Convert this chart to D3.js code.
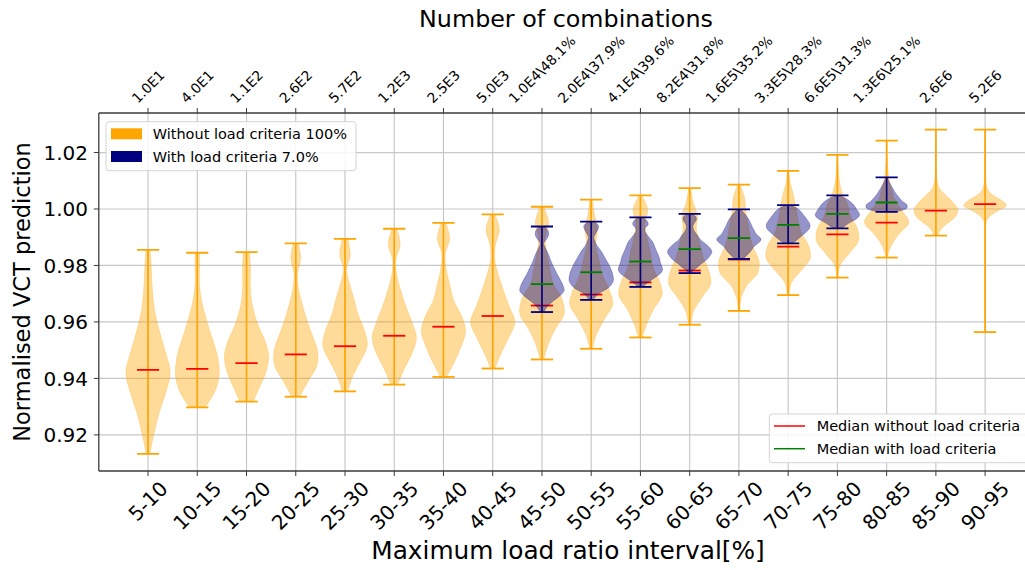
<!DOCTYPE html>
<html><head><meta charset="utf-8">
<script src="https://cdn.jsdelivr.net/npm/d3@7"></script>
<style>
body{margin:0;background:#fff}
svg{display:block}
text{font-family:"DejaVu Sans",sans-serif;fill:#000}
</style>
</head><body>
<svg id="c" width="1025" height="570"></svg>
<script>
// ---------------- data ----------------
const categories = ["5-10","10-15","15-20","20-25","25-30","30-35","35-40","40-45","45-50","50-55","55-60","60-65","65-70","70-75","75-80","80-85","85-90","90-95"];
const topLabels = ["1.0E1","4.0E1","1.1E2","2.6E2","5.7E2","1.2E3","2.5E3","5.0E3","1.0E4\\48.1%","2.0E4\\37.9%","4.1E4\\39.6%","8.2E4\\31.8%","1.6E5\\35.2%","3.3E5\\28.3%","6.6E5\\31.3%","1.3E6\\25.1%","2.6E6","5.2E6"];
const yTicks = [0.92, 0.94, 0.96, 0.98, 1.00, 1.02];
const yTickLabels = ["0.92","0.94","0.96","0.98","1.00","1.02"];

// without load criteria (all intervals)
const withoutMin    = [0.9133,0.9297,0.9318,0.9335,0.9354,0.9378,0.9405,0.9435,0.9467,0.9505,0.9545,0.9590,0.9639,0.9695,0.9757,0.9828,0.9906,0.9564];
const withoutMax    = [0.9855,0.9845,0.9847,0.9878,0.9894,0.9930,0.9951,0.9981,1.0008,1.0033,1.0048,1.0074,1.0086,1.0135,1.0192,1.0242,1.0281,1.0281];
const withoutMedian = [0.9430,0.9434,0.9454,0.9485,0.9514,0.9551,0.9583,0.9621,0.9658,0.9697,0.9740,0.9782,0.9821,0.9867,0.9910,0.9952,0.9994,1.0017];
// relative density (1 = widest), sampled evenly from min (first) to max (last)
const withoutDensity = [
  [0.08,0.27,0.5,0.8,1.0,0.78,0.52,0.3,0.2,0.15,0.1],
  [0.35,0.78,0.98,0.95,0.78,0.55,0.35,0.18,0.1,0.1,0.1],
  [0.3,0.6,0.88,1.0,0.85,0.55,0.33,0.2,0.17,0.18,0.14],
  [0.18,0.55,0.95,0.98,0.75,0.5,0.3,0.13,0.08,0.22,0.12],
  [0.12,0.35,0.7,1.0,0.88,0.6,0.42,0.22,0.07,0.24,0.12],
  [0.15,0.45,0.8,1.0,0.8,0.53,0.3,0.12,0.07,0.27,0.1],
  [0.13,0.5,0.8,1.0,0.8,0.45,0.28,0.12,0.08,0.28,0.1],
  [0.1,0.38,0.72,1.0,0.75,0.5,0.27,0.1,0.12,0.3,0.1],
  [0.08,0.28,0.6,1.0,0.9,0.5,0.35,0.22,0.15,0.3,0.08],
  [0.06,0.25,0.6,0.97,0.8,0.5,0.35,0.2,0.28,0.15,0.06],
  [0.08,0.3,0.6,0.98,0.85,0.55,0.45,0.3,0.2,0.33,0.06],
  [0.05,0.18,0.55,0.95,0.85,0.6,0.45,0.3,0.35,0.15,0.05],
  [0.04,0.1,0.35,0.85,0.9,0.65,0.5,0.4,0.3,0.25,0.05],
  [0.04,0.15,0.6,1.0,0.92,0.6,0.45,0.35,0.25,0.1,0.03],
  [0.03,0.12,0.55,0.95,0.9,0.6,0.45,0.2,0.08,0.04,0.02],
  [0.03,0.2,0.55,1.0,0.7,0.35,0.2,0.08,0.04,0.02,0.02],
  [0.08,0.2,0.42,0.75,0.95,0.98,0.82,0.6,0.35,0.15,0.07,0.04,0.03,0.025,0.02,0.02,0.015,0.015,0.01,0.01,0.01],
  [0.01,0.01,0.01,0.01,0.01,0.01,0.01,0.01,0.01,0.01,0.01,0.01,0.01,0.01,0.01,0.01,0.01,0.01,0.012,0.012,0.015,0.025,0.06,0.24,0.58,0.97,0.75,0.38,0.14,0.06,0.03,0.02,0.015,0.015,0.01,0.01,0.01,0.01,0.01,0.01,0.01]
];

// with load criteria (intervals 45-50 .. 80-85)
const withCategories = ["45-50","50-55","55-60","60-65","65-70","70-75","75-80","80-85"];
const withMin    = [0.9635,0.9678,0.9724,0.9773,0.9823,0.9878,0.9931,0.9990];
const withMax    = [0.9938,0.9955,0.9970,0.9983,0.9999,1.0014,1.0048,1.0112];
const withMedian = [0.9734,0.9776,0.9814,0.9858,0.9897,0.9944,0.9983,1.0023];
const withDensity = [
  [0.08,0.2,0.38,0.62,0.85,1.0,0.97,0.88,0.78,0.67,0.58,0.48,0.4,0.33,0.25,0.15,0.08,0.2,0.3,0.28,0.1],
  [0.1,0.22,0.45,0.75,0.92,1.0,0.99,0.95,0.88,0.8,0.7,0.6,0.5,0.38,0.25,0.17,0.12,0.2,0.3,0.33,0.12],
  [0.1,0.28,0.5,0.72,0.92,1.0,0.96,0.9,0.87,0.82,0.75,0.68,0.62,0.55,0.42,0.3,0.2,0.22,0.35,0.3,0.08],
  [0.08,0.18,0.35,0.5,0.68,0.83,0.93,1.0,0.96,0.85,0.7,0.52,0.42,0.32,0.22,0.16,0.15,0.22,0.3,0.28,0.06],
  [0.2,0.3,0.42,0.52,0.6,0.68,0.82,0.95,1.0,0.9,0.78,0.72,0.66,0.6,0.55,0.5,0.44,0.36,0.28,0.18,0.05],
  [0.2,0.42,0.62,0.82,0.97,0.98,0.88,0.75,0.62,0.45,0.06],
  [0.2,0.38,0.62,0.88,1.0,0.95,0.85,0.75,0.6,0.4,0.05],
  [0.35,0.9,0.92,0.72,0.58,0.45,0.35,0.26,0.17,0.09,0.03]
];

// ---------------- drawing ----------------
const W = 1025, H = 570;
const svg = d3.select("#c");
const pL = 98.8, pT = 113, pB = 471;
const x = d3.scaleLinear().domain([0, 19]).range([pL, pL + 19 * 49.24]);
const y = d3.scaleLinear().domain([0.9072, 1.034]).range([pB, pT]);
const pos = categories.map((c, i) => i + 1);
const halfW = x(0.45) - x(0);
const capW = x(0.225) - x(0);

svg.append("rect").attr("width", W).attr("height", H).attr("fill", "#fff");

svg.append("clipPath").attr("id", "plotclip").append("rect")
  .attr("x", pL).attr("y", pT).attr("width", x(19) - pL).attr("height", pB - pT);
const plot = svg.append("g").attr("clip-path", "url(#plotclip)");

// grid
plot.selectAll(".hg").data(yTicks).join("line")
  .attr("x1", pL).attr("x2", x(19)).attr("y1", d => y(d)).attr("y2", d => y(d))
  .attr("stroke", "#c8c8c8").attr("stroke-width", 1.2);
plot.selectAll(".vg").data(pos).join("line")
  .attr("x1", d => x(d)).attr("x2", d => x(d)).attr("y1", pT).attr("y2", pB)
  .attr("stroke", "#c4c4c4").attr("stroke-width", 1.1);

function violinBody(g, p, mn, mx, dens, color, op) {
  const n = dens.length;
  const pts = dens.map((w, i) => ({ v: mn + (mx - mn) * i / (n - 1), w: w }));
  const area = d3.area()
    .y(d => y(d.v))
    .x0(d => x(p) - d.w * halfW)
    .x1(d => x(p) + d.w * halfW)
    .curve(d3.curveCatmullRom.alpha(0.5));
  g.append("path").attr("d", area(pts))
    .attr("fill", color).attr("fill-opacity", op)
    .attr("stroke", color).attr("stroke-opacity", op * 0.6).attr("stroke-width", 1);
}
function violinLines(g, p, mn, mx, color) {
  g.append("line").attr("x1", x(p)).attr("x2", x(p)).attr("y1", y(mn)).attr("y2", y(mx))
    .attr("stroke", color).attr("stroke-width", 1.6);
  [mn, mx].forEach(v => g.append("line")
    .attr("x1", x(p) - capW).attr("x2", x(p) + capW).attr("y1", y(v)).attr("y2", y(v))
    .attr("stroke", color).attr("stroke-width", 1.8));
}
function medianLine(g, p, v, color) {
  g.append("line").attr("x1", x(p) - capW).attr("x2", x(p) + capW).attr("y1", y(v)).attr("y2", y(v))
    .attr("stroke", color).attr("stroke-width", 1.8);
}

// without load criteria: bodies, extrema, medians
const gOrange = plot.append("g");
categories.forEach((c, i) => violinBody(gOrange, pos[i], withoutMin[i], withoutMax[i], withoutDensity[i], "#FFA500", 0.4));
categories.forEach((c, i) => violinLines(gOrange, pos[i], withoutMin[i], withoutMax[i], "#FFA500"));
categories.forEach((c, i) => medianLine(gOrange, pos[i], withoutMedian[i], "#FF0000"));

// with load criteria drawn on top
const gBlue = plot.append("g");
withCategories.forEach((c, j) => {
  const p = categories.indexOf(c) + 1;
  violinBody(gBlue, p, withMin[j], withMax[j], withDensity[j], "#000080", 0.42);
});
withCategories.forEach((c, j) => {
  const p = categories.indexOf(c) + 1;
  violinLines(gBlue, p, withMin[j], withMax[j], "#000080");
  medianLine(gBlue, p, withMedian[j], "#008000");
});

// spines
const axC = "#3a3a3a";
svg.append("line").attr("x1", pL).attr("x2", pL).attr("y1", pT).attr("y2", pB).attr("stroke", axC).attr("stroke-width", 1.3);
svg.append("line").attr("x1", pL).attr("x2", W).attr("y1", pB).attr("y2", pB).attr("stroke", axC).attr("stroke-width", 1.3);
svg.append("line").attr("x1", pL).attr("x2", W).attr("y1", pT).attr("y2", pT).attr("stroke", axC).attr("stroke-width", 1.3);

// y ticks
svg.selectAll(".yt").data(yTicks).join("line")
  .attr("x1", pL - 5).attr("x2", pL).attr("y1", d => y(d)).attr("y2", d => y(d))
  .attr("stroke", axC).attr("stroke-width", 1);
svg.selectAll(".ytl").data(yTicks).join("text")
  .attr("x", 88).attr("y", d => y(d)).attr("dy", "0.36em")
  .attr("text-anchor", "end").attr("font-size", 20)
  .text((d, i) => yTickLabels[i]);

// x ticks bottom / top
svg.selectAll(".xtb").data(pos).join("line")
  .attr("x1", d => x(d)).attr("x2", d => x(d)).attr("y1", pB).attr("y2", pB + 5)
  .attr("stroke", axC).attr("stroke-width", 1);
svg.selectAll(".xtt").data(pos).join("line")
  .attr("x1", d => x(d)).attr("x2", d => x(d)).attr("y1", pT).attr("y2", pT - 5)
  .attr("stroke", axC).attr("stroke-width", 1);

function rotLabel(txt, cx, edge, fs, below) {
  const t = svg.append("text").attr("font-size", fs).attr("text-anchor", "middle")
    .attr("dominant-baseline", "central").text(txt);
  const w = t.node().getComputedTextLength();
  const h = 0.73 * fs;
  const half = (w + h) / (2 * Math.SQRT2);
  const cy = below ? edge + half : edge - half;
  t.attr("transform", `translate(${cx},${cy}) rotate(-45)`);
}
categories.forEach((c, i) => rotLabel(c, x(pos[i]), 480, 20, true));
topLabels.forEach((c, i) => rotLabel(c, x(pos[i]), 104, 13.8, false));

// axis titles
svg.append("text").attr("x", 566).attr("y", 27).attr("text-anchor", "middle").attr("font-size", 23.8).text("Number of combinations");
svg.append("text").attr("x", 568).attr("y", 559).attr("text-anchor", "middle").attr("font-size", 24.8).text("Maximum load ratio interval[%]");
svg.append("text").attr("transform", "translate(30,292) rotate(-90)").attr("text-anchor", "middle").attr("font-size", 22.5).text("Normalised VCT prediction");

// legend 1
const leg1 = svg.append("g");
leg1.append("rect").attr("x", 106).attr("y", 121.7).attr("width", 250).attr("height", 49).attr("rx", 3)
  .attr("fill", "#fff").attr("fill-opacity", 0.85).attr("stroke", "#d4d4d4");
const leg1Items = [{ label: "Without load criteria 100%", color: "#FFA500" }, { label: "With load criteria 7.0%", color: "#000080" }];
leg1Items.forEach((d, i) => {
  const cy = 133.8 + i * 22.7;
  leg1.append("rect").attr("x", 111).attr("y", cy - 5.5).attr("width", 31).attr("height", 11).attr("fill", d.color);
  leg1.append("text").attr("x", 152.7).attr("y", cy).attr("dy", "0.36em").attr("font-size", 14.5).text(d.label);
});

// legend 2
const leg2 = svg.append("g");
leg2.append("rect").attr("x", 769.3).attr("y", 414).attr("width", 270).attr("height", 48.7).attr("rx", 3)
  .attr("fill", "#fff").attr("fill-opacity", 0.85).attr("stroke", "#d4d4d4");
const leg2Items = [{ label: "Median without load criteria", color: "#FF0000" }, { label: "Median with load criteria", color: "#008000" }];
leg2Items.forEach((d, i) => {
  const cy = 426 + i * 22.7;
  leg2.append("line").attr("x1", 774).attr("x2", 805).attr("y1", cy).attr("y2", cy).attr("stroke", d.color).attr("stroke-width", 1.5);
  leg2.append("text").attr("x", 816.7).attr("y", cy).attr("dy", "0.36em").attr("font-size", 14.5).text(d.label);
});
</script>
</body></html>
